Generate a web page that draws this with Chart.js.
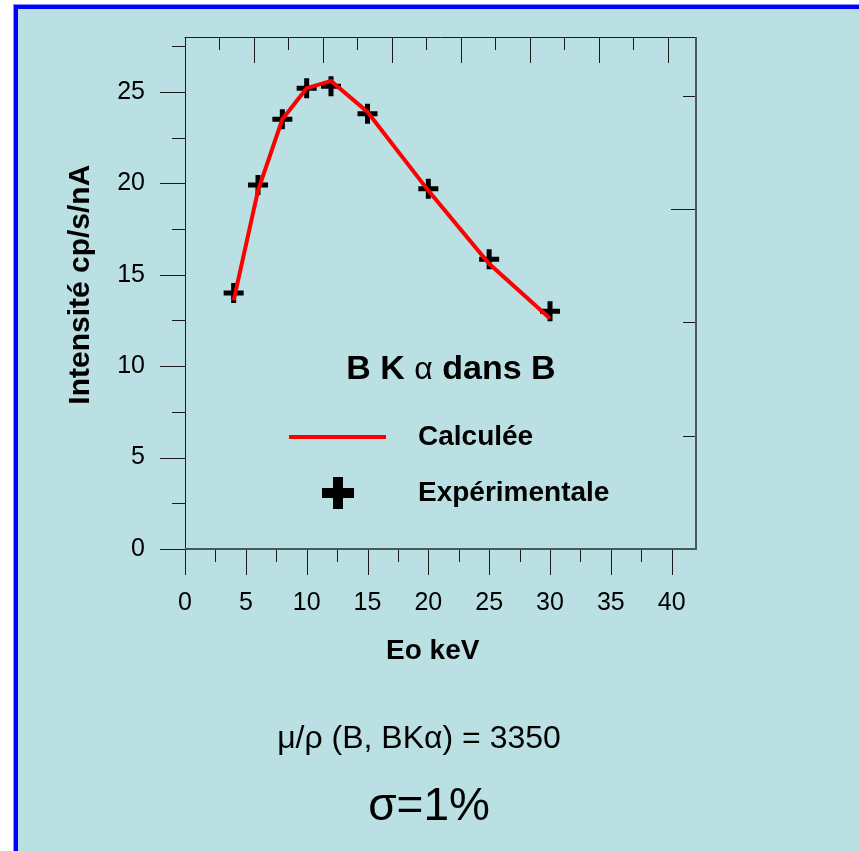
<!DOCTYPE html>
<html>
<head>
<meta charset="utf-8">
<title>B K alpha dans B</title>
<script src="https://cdn.jsdelivr.net/npm/chart.js@4.4.0/dist/chart.umd.min.js"></script>
<style>
  html, body { margin: 0; padding: 0; background: #fff; overflow: hidden; }
  #panel {
    position: absolute; left: 14px; top: 5px; width: 900px; height: 900px;
    background: #BAE0E3;
    border-left: 4px solid #0000FF; border-top: 4px solid #0000FF;
    box-shadow: -1px -1px 0 #8C8CFF;
  }
  #chart { position: absolute; left: 0; top: 0; }
  .note {
    position: absolute; color: #000; white-space: nowrap;
    font-family: Arial, "Liberation Sans", sans-serif;
    transform: translate(-50%, -50%);
  }
  #mu { left: 419px; top: 737px; font-size: 32px; }
  #sigma { left: 429px; top: 804px; font-size: 46px; }
</style>
</head>
<body>
<div id="panel"></div>
<canvas id="chart" width="859" height="851"></canvas>
<div class="note" id="mu">&mu;/&rho; (B, BK&alpha;) = 3350</div>
<div class="note" id="sigma">&sigma;=1%</div>
<script>
// Energies (keV) and intensities (cp/s/nA)
const energies = [4, 6, 8, 10, 12, 15, 20, 25, 30];
const calculated = [13.6, 19.6, 23.5, 25.2, 25.6, 23.9, 19.6, 15.6, 12.6];
const experimental = [14.0, 19.9, 23.5, 25.2, 25.3, 23.8, 19.7, 15.85, 13.0];

// Labelled ticks
const xTickLabels = [0, 5, 10, 15, 20, 25, 30, 35, 40];
const yTickLabels = [0, 5, 10, 15, 20, 25];

const FONT = 'Arial, "Liberation Sans", sans-serif';
Chart.defaults.font.family = FONT;
Chart.defaults.color = '#000';

// frame + tick marks (bottom/left outward, top/right inward)
const frameTicks = {
  id: 'frameTicks',
  beforeDatasetsDraw(chart) {
    const { ctx, chartArea: a, scales } = chart;
    ctx.save();
    ctx.lineWidth = 1;
    ctx.strokeStyle = '#1a1a1a';
    const seg = (x1, y1, x2, y2) => {
      ctx.beginPath();
      ctx.moveTo(x1, y1);
      ctx.lineTo(x2, y2);
      ctx.stroke();
    };

    scales.x.ticks.forEach(t => {
      const px = Math.round(scales.x.getPixelForValue(t.value)) + 0.5;
      seg(px, a.bottom, px, a.bottom + (t.value % 5 === 0 ? 26 : 13));
    });
    scales.y.ticks.forEach(t => {
      const py = Math.round(scales.y.getPixelForValue(t.value)) + 0.5;
      seg(a.left, py, a.left - (t.value % 5 === 0 ? 25 : 13), py);
    });
    scales.x2.ticks.forEach(t => {
      const px = Math.round(scales.x2.getPixelForValue(t.value)) + 0.5;
      seg(px, a.top, px, a.top + (t.value % 1 === 0 ? 26 : 13));
    });
    scales.y2.ticks.forEach(t => {
      const py = Math.round(scales.y2.getPixelForValue(t.value)) + 0.5;
      seg(a.right, py, a.right - (t.value === 0 ? 25 : 13), py);
    });

    // frame
    seg(a.left - 0.5, a.top + 0.5, a.right, a.top + 0.5);
    seg(a.left + 0.5, a.top, a.left + 0.5, a.bottom);
    ctx.lineWidth = 2;
    ctx.strokeStyle = '#46585a';
    seg(a.left, a.bottom, a.right + 1, a.bottom);
    seg(a.right, a.top, a.right, a.bottom + 1);
    ctx.restore();
  }
};

// caption and key inside the plot
const insideKey = {
  id: 'insideKey',
  afterDraw(chart) {
    const { ctx, chartArea: a } = chart;
    ctx.save();
    ctx.fillStyle = '#000';
    ctx.textBaseline = 'middle';

    // "B K α dans B"
    const parts = [
      ['B K ', 'bold 34px ' + FONT],
      ['\u03B1', '32px ' + FONT],
      [' dans B', 'bold 34px ' + FONT]
    ];
    let total = 0;
    parts.forEach(p => { ctx.font = p[1]; total += ctx.measureText(p[0]).width; });
    let x = a.left + 266 - total / 2;
    parts.forEach(p => {
      ctx.font = p[1];
      ctx.fillText(p[0], x, 370);
      x += ctx.measureText(p[0]).width;
    });

    // key
    const calc = chart.data.datasets[0];
    const expt = chart.data.datasets[1];
    ctx.strokeStyle = calc.borderColor;
    ctx.lineWidth = calc.borderWidth;
    ctx.beginPath();
    ctx.moveTo(a.left + 104, 437);
    ctx.lineTo(a.left + 201, 437);
    ctx.stroke();

    ctx.strokeStyle = expt.pointBorderColor;
    ctx.lineWidth = 10;
    ctx.beginPath();
    ctx.moveTo(a.left + 153, 477);
    ctx.lineTo(a.left + 153, 509);
    ctx.moveTo(a.left + 137, 493);
    ctx.lineTo(a.left + 169, 493);
    ctx.stroke();

    ctx.font = 'bold 28px ' + FONT;
    ctx.fillText(calc.label, a.left + 233, 437);
    ctx.fillText(expt.label, a.left + 233, 493);
    ctx.restore();
  }
};

new Chart(document.getElementById('chart'), {
  type: 'scatter',
  data: {
    datasets: [
      {
        label: 'Calculée',
        data: energies.map((e, i) => ({ x: e, y: calculated[i] })),
        showLine: true,
        borderColor: '#FF0000',
        borderWidth: 4,
        pointRadius: 0,
        tension: 0
      },
      {
        label: 'Expérimentale',
        data: energies.map((e, i) => ({ x: e, y: experimental[i] })),
        showLine: false,
        pointStyle: 'cross',
        pointRadius: 10,
        pointBorderWidth: 5,
        pointBorderColor: '#000',
        pointBackgroundColor: '#000'
      }
    ]
  },
  options: {
    responsive: false,
    animation: false,
    layout: {
      autoPadding: false,
      padding: { left: 63, top: 37, right: 163, bottom: 183 }
    },
    plugins: {
      legend: { display: false },
      tooltip: { enabled: false }
    },
    scales: {
      x: {
        type: 'linear', position: 'bottom', min: 0, max: 42,
        // tick marks come from frameTicks; tickLength only spaces the labels
        grid: { display: false, drawTicks: true, tickLength: 39 },
        border: { display: false },
        ticks: {
          stepSize: 2.5, includeBounds: false, autoSkip: false, maxRotation: 0,
          padding: 0, font: { size: 25 },
          callback: v => xTickLabels.includes(v) ? String(v) : ''
        },
        title: { display: true, text: 'Eo keV\u00A0\u00A0', padding: 0, font: { size: 28, weight: 'bold' } },
        afterFit: s => { s.height = 119; }
      },
      y: {
        type: 'linear', position: 'left', min: 0, max: 28,
        grid: { display: false, drawTicks: true, tickLength: 40 },
        border: { display: false },
        ticks: {
          stepSize: 2.5, includeBounds: false, autoSkip: false,
          padding: 0, font: { size: 25 },
          callback: v => yTickLabels.includes(v) ? String(v) : ''
        },
        title: { display: true, text: '\u00A0\u00A0Intensité cp/s/nA', padding: 0, font: { size: 30, weight: 'bold' } },
        afterFit: s => { s.width = 122; }
      },
      x2: {
        type: 'linear', position: 'top', min: 0, max: 7.406,
        grid: { display: false, drawTicks: false },
        border: { display: false },
        ticks: { display: false, stepSize: 0.5, includeBounds: false, autoSkip: false },
        afterFit: s => { s.height = 0; }
      },
      y2: {
        type: 'linear', position: 'right', min: -3, max: 1.519,
        grid: { display: false, drawTicks: false },
        border: { display: false },
        ticks: { display: false, stepSize: 1, includeBounds: false, autoSkip: false },
        afterFit: s => { s.width = 0; }
      }
    }
  },
  plugins: [frameTicks, insideKey]
});
</script>
</body>
</html>
